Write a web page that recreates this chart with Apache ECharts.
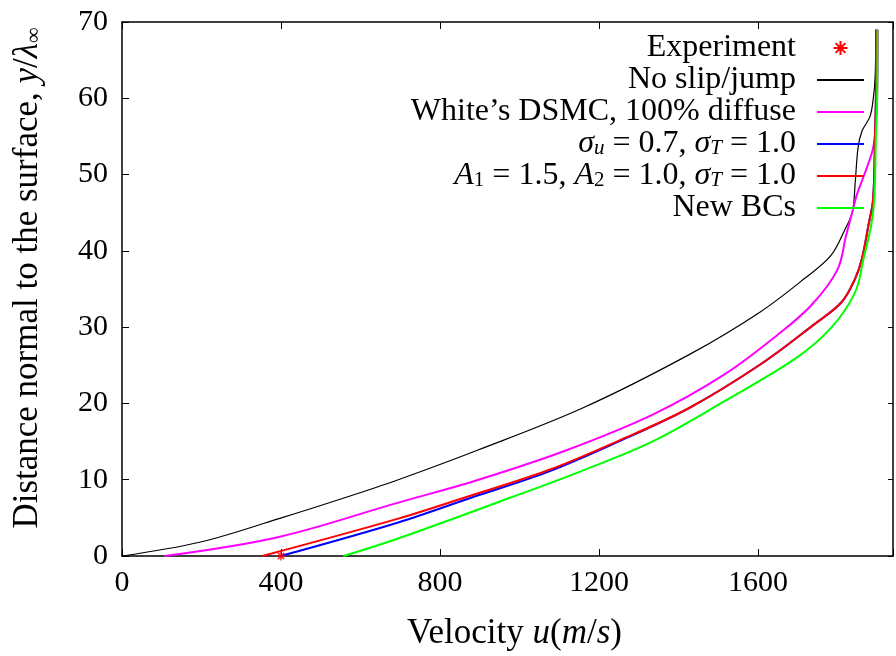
<!DOCTYPE html>
<html>
<head>
<meta charset="utf-8">
<script src="https://cdn.jsdelivr.net/npm/echarts@6/dist/echarts.min.js"></script>
<style>html,body{margin:0;padding:0;background:#fff}#c{width:896px;height:656px}</style>
</head>
<body>
<div id="c"></div>
<script>
// ---- data: [velocity u (m/s), y/lambda] ----
const seriesNames = ['Experiment', 'No slip/jump', 'White\u2019s DSMC, 100% diffuse',
  'sigma_u = 0.7, sigma_T = 1.0', 'A_1 = 1.5, A_2 = 1.0, sigma_T = 1.0', 'New BCs'];
const experiment = [[400, 0]];
const noSlip = [[0,0],[195,1.8],[395,4.9],[570,7.8],[695,10],[891,13.8],[1159,19.4],[1427,26.4],[1606,32],[1718,36.4],[1784,39.4],[1820,42.9],[1838,45.1],[1845,49],[1852,53.5],[1862,55.7],[1882,57.6],[1890,59.8],[1895,62.8],[1897,69]];
const whiteDSMC = [[107,0],[395,2.5],[695,7.0],[891,9.9],[1115,13.8],[1338,18.6],[1516,23.8],[1650,29],[1735,32.9],[1800,37.5],[1822,42],[1837,45],[1850,47.5],[1870,50.3],[1890,53.5],[1897,57],[1900,60],[1902,69]];
const sigma07 = [[399,0],[695,4.4],[882,7.7],[1070,11.0],[1249,15.0],[1427,19.4],[1606,25.1],[1740,30.3],[1811,33.3],[1845,36.4],[1862,39],[1878,43.3],[1890,46.8],[1895,55.5],[1897,60],[1898,69]];
const a15 = [[353,0],[695,4.9],[865,7.7],[1070,11.2],[1249,15.1],[1427,19.4],[1606,25.1],[1740,30.3],[1811,33.3],[1845,36.4],[1862,39],[1878,43.3],[1890,46.8],[1895,55.5],[1897,60],[1898,69]];
const newBCs = [[557,0],[695,2.3],[980,7.7],[1159,11.2],[1338,15.1],[1516,20.3],[1695,25.9],[1784,29.9],[1845,34.6],[1866,39],[1885,43.3],[1893,46.8],[1897,55],[1900,60],[1901,69]];
const xTicks = [0, 400, 800, 1200, 1600];
const yTicks = [0, 10, 20, 30, 40, 50, 60, 70];

const FONT = '"Liberation Serif", "DejaVu Serif", serif';
const LF = 32;
const rich = {
  i: {fontFamily: FONT, fontSize: LF, fontStyle: 'italic', color: '#000', lineHeight: 30},
  s: {fontFamily: FONT, fontSize: 21, fontStyle: 'italic', color: '#000', lineHeight: 14, verticalAlign: 'bottom'},
  r: {fontFamily: FONT, fontSize: 21, color: '#000', lineHeight: 14, verticalAlign: 'bottom'}
};
const TF = 35;
const richT = {
  i: {fontFamily: FONT, fontSize: TF, fontStyle: 'italic', color: '#000'},
  r: {fontFamily: FONT, fontSize: 22, color: '#000', lineHeight: 16, verticalAlign: 'bottom'}
};
const labelMap = {};
labelMap[seriesNames[0]] = 'Experiment';
labelMap[seriesNames[1]] = 'No slip/jump';
labelMap[seriesNames[2]] = 'White\u2019s DSMC, 100% diffuse';
labelMap[seriesNames[3]] = '{i|\u03c3}{s|u} = 0.7, {i|\u03c3}{s|T} = 1.0';
labelMap[seriesNames[4]] = '{i|A}{r|1} = 1.5, {i|A}{r|2} = 1.0, {i|\u03c3}{s|T} = 1.0';
labelMap[seriesNames[5]] = 'New BCs';

const XMAX = 1940;
const chart = echarts.init(document.getElementById('c'), null, {renderer: 'canvas'});
const axisLineStyle = {color: '#000', width: 1.5};
const lineSeries = (name, data, color, width) => ({
  name, type: 'line', data, symbol: 'none', smooth: 0.35,
  lineStyle: {color, width}, itemStyle: {color}, animation: false, z: 3
});
chart.setOption({
  animation: false,
  backgroundColor: '#fff',
  grid: {left: 122, top: 22, width: XMAX * 0.4, height: 537},
  legend: {
    orient: 'vertical', right: 26, top: 27, align: 'right',
    itemWidth: 47, itemHeight: 14, itemGap: 0,
    itemStyle: {opacity: 0},
    textStyle: {fontFamily: FONT, fontSize: LF, color: '#000', lineHeight: 30, rich, padding: [0, 16, 0, 0]},
    formatter: n => labelMap[n],
    data: seriesNames.map((n, k) => k === 0 ? {name: n, itemStyle: {opacity: 1}} : {name: n})
  },
  xAxis: [{
    type: 'value', min: 0, max: XMAX, interval: 400, position: 'bottom',
    name: 'Velocity {i|u}({i|m}/{i|s})', nameLocation: 'middle', nameGap: 60,
    nameTextStyle: {fontFamily: FONT, fontSize: TF, color: '#000', rich: richT, padding: [0, 0, 0, 14]},
    axisLine: {show: true, onZero: false, lineStyle: axisLineStyle},
    axisTick: {show: true, inside: true, length: 7, lineStyle: {color: '#000', width: 1}},
    axisLabel: {fontFamily: FONT, fontSize: 30, color: '#000', margin: 12,
      formatter: v => xTicks.indexOf(v) >= 0 ? String(v) : ''},
    splitLine: {show: false}
  }, {
    type: 'value', min: 0, max: XMAX, interval: 400, position: 'top',
    axisLine: {show: true, onZero: false, lineStyle: axisLineStyle},
    axisTick: {show: true, inside: true, length: 7, lineStyle: {color: '#000', width: 1}},
    axisLabel: {show: false}, splitLine: {show: false}
  }],
  yAxis: [{
    type: 'value', min: 0, max: 70, interval: 10, position: 'left',
    name: 'Distance normal to the surface, {i|y}/{i|\u03bb}{r|\u221e}', nameLocation: 'middle', nameGap: 77,
    nameTextStyle: {fontFamily: FONT, fontSize: TF, color: '#000', rich: richT, padding: [0, 0, 0, 22]},
    axisLine: {show: true, onZero: false, lineStyle: axisLineStyle},
    axisTick: {show: true, inside: true, length: 7, lineStyle: {color: '#000', width: 1}},
    axisLabel: {fontFamily: FONT, fontSize: 30, color: '#000', margin: 14,
      formatter: v => yTicks.indexOf(v) >= 0 ? String(v) : ''},
    splitLine: {show: false}
  }, {
    type: 'value', min: 0, max: 70, interval: 10, position: 'right',
    axisLine: {show: true, onZero: false, lineStyle: axisLineStyle},
    axisTick: {show: true, inside: true, length: 5, lineStyle: {color: '#000', width: 1}},
    axisLabel: {show: false}, splitLine: {show: false}
  }],
  series: [
    {name: seriesNames[0], type: 'scatter', data: experiment, clip: false, z: 5,
     symbol: 'path://M0,5L10,5M5,0L5,10M1.5,1.5L8.5,8.5M8.5,1.5L1.5,8.5', symbolSize: 9, symbolKeepAspect: true,
     itemStyle: {color: 'rgba(0,0,0,0)', borderColor: '#ff0000', borderWidth: 1.6}},
    lineSeries(seriesNames[1], noSlip, '#000000', 1.2),
    lineSeries(seriesNames[2], whiteDSMC, '#ff00ff', 2),
    lineSeries(seriesNames[3], sigma07, '#0000ff', 2),
    lineSeries(seriesNames[4], a15, '#ff0000', 2),
    lineSeries(seriesNames[5], newBCs, '#00ff00', 2)
  ]
});
</script>
</body>
</html>
